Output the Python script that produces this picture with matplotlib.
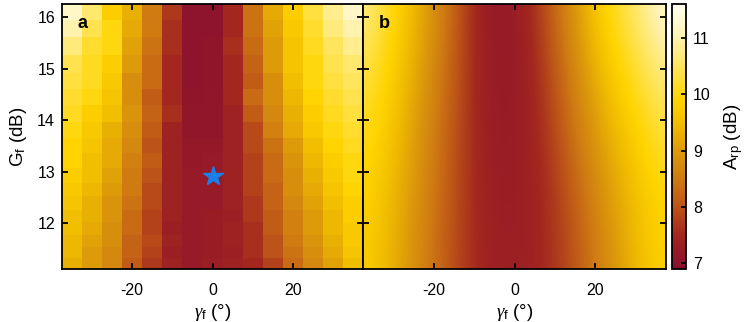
import numpy as np
import matplotlib
matplotlib.use("Agg")
import matplotlib.pyplot as plt
from matplotlib.colors import LinearSegmentedColormap

plt.rcParams['font.family'] = ['Liberation Sans', 'DejaVu Sans']
plt.rcParams['mathtext.fontset'] = 'custom'
plt.rcParams['mathtext.rm'] = 'Liberation Sans'
plt.rcParams['mathtext.it'] = 'Liberation Serif:italic'
plt.rcParams['axes.unicode_minus'] = False

# ---- data ----
gamma_a = [-35, -30, -25, -20, -15, -10, -5, 0, 5, 10, 15, 20, 25, 30, 35]
g_a = [16.11, 15.79, 15.44, 15.09, 14.76, 14.45, 14.13, 13.80, 13.50,
       13.21, 12.92, 12.65, 12.39, 12.14, 11.90, 11.66, 11.43, 11.22]
arp_a = [
    [11.2, 10.6, 9.8, 9.3, 8.5, 7.7, 7.0, 7.0, 7.5, 8.4, 9.2, 9.8, 10.3, 10.8, 11.2],
    [11.0, 10.4, 10.0, 9.2, 8.5, 7.6, 7.0, 7.0, 7.5, 8.4, 9.1, 9.7, 10.2, 10.7, 11.0],
    [10.7, 10.2, 10.0, 9.1, 8.4, 7.6, 7.0, 7.05, 7.6, 8.3, 9.0, 9.6, 10.1, 10.5, 10.8],
    [10.4, 10.1, 9.8, 9.0, 8.3, 7.5, 7.0, 7.05, 7.5, 8.2, 9.0, 9.6, 10.0, 10.4, 10.6],
    [10.3, 10.1, 9.7, 8.8, 8.3, 7.5, 7.0, 7.05, 7.5, 8.1, 8.8, 9.5, 10.0, 10.3, 10.5],
    [10.2, 10.0, 9.6, 8.8, 8.1, 7.5, 7.05, 7.1, 7.5, 8.3, 8.8, 9.4, 9.9, 10.2, 10.4],
    [10.1, 9.8, 9.5, 8.9, 8.2, 7.6, 7.1, 7.1, 7.4, 8.1, 8.7, 9.3, 9.8, 10.1, 10.3],
    [10.0, 9.7, 9.3, 8.8, 8.1, 7.4, 7.1, 7.1, 7.4, 7.9, 8.6, 9.2, 9.7, 10.0, 10.2],
    [9.9, 9.6, 9.2, 8.7, 8.0, 7.4, 7.15, 7.15, 7.4, 7.9, 8.4, 9.0, 9.5, 9.9, 10.1],
    [9.9, 9.5, 9.2, 8.6, 8.1, 7.4, 7.15, 7.2, 7.4, 7.8, 8.3, 8.9, 9.4, 9.8, 10.0],
    [9.8, 9.5, 9.1, 8.5, 8.0, 7.4, 7.2, 7.2, 7.4, 7.8, 8.3, 8.8, 9.3, 9.7, 10.0],
    [9.7, 9.4, 9.0, 8.5, 7.9, 7.4, 7.2, 7.2, 7.4, 7.8, 8.2, 8.8, 9.2, 9.6, 9.9],
    [9.6, 9.3, 8.9, 8.4, 7.9, 7.4, 7.2, 7.2, 7.4, 7.7, 8.2, 8.7, 9.1, 9.5, 9.8],
    [9.5, 9.3, 8.9, 8.3, 7.8, 7.4, 7.2, 7.25, 7.35, 7.7, 8.1, 8.6, 9.0, 9.4, 9.8],
    [9.5, 9.2, 8.8, 8.3, 7.8, 7.3, 7.2, 7.25, 7.4, 7.6, 8.1, 8.6, 9.0, 9.4, 9.7],
    [9.4, 9.1, 8.8, 8.2, 7.9, 7.4, 7.2, 7.25, 7.4, 7.6, 8.0, 8.5, 8.9, 9.3, 9.7],
    [9.4, 9.0, 8.7, 8.2, 7.8, 7.3, 7.2, 7.25, 7.35, 7.6, 8.0, 8.4, 8.8, 9.2, 9.6],
    [9.3, 9.0, 8.7, 8.1, 7.7, 7.4, 7.2, 7.3, 7.4, 7.5, 7.8, 8.3, 8.7, 9.1, 9.5],
]
star_gamma = [0.0]
star_g = [12.92]

gamma_b = [-37.5, -30, -22.5, -15, -7.5, 0, 7.5, 15, 22.5, 30, 37.5]
g_b = [16.25, 14.96, 13.68, 12.39, 11.10]
arp_b = [
    [10.9, 10.0, 9.2, 8.2, 7.2, 7.15, 7.9, 9.0, 10.0, 10.6, 11.5],
    [10.4, 9.8, 9.0, 8.1, 7.25, 7.15, 7.7, 8.7, 9.6, 10.2, 10.8],
    [10.1, 9.6, 8.8, 8.0, 7.3, 7.2, 7.6, 8.4, 9.2, 9.8, 10.3],
    [9.9, 9.4, 8.7, 7.95, 7.35, 7.25, 7.5, 8.1, 8.9, 9.5, 10.0],
    [9.8, 9.3, 8.6, 7.9, 7.4, 7.3, 7.5, 8.0, 8.7, 9.4, 9.9],
]
x_ticks = [-20, 0, 20]
y_ticks = [12, 13, 14, 15, 16]
cb_ticks = [7, 8, 9, 10, 11]
vmin, vmax = 6.9, 11.6

# ---- colormap ----
stops = [(6.9, '#8a0f2e'), (7.5, '#a3261f'), (8.0, '#bd5418'), (8.5, '#cf7b12'),
         (9.0, '#dd9b0a'), (9.5, '#f2be00'), (9.9, '#ffd400'), (10.5, '#ffe55c'),
         (11.0, '#fff2ad'), (11.6, '#fffff5')]
cmap = LinearSegmentedColormap.from_list(
    'arp', [((v - vmin) / (vmax - vmin), c) for v, c in stops])

fig = plt.figure(figsize=(7.52, 3.22), dpi=100)
W, H = 752, 322
def ax_at(l, t, r, b):
    return fig.add_axes([l / W, 1 - b / H, (r - l) / W, (b - t) / H])

ax_a = ax_at(62, 4, 363, 269)
ax_b = ax_at(363, 4, 666, 269)
cax = ax_at(672, 4, 686, 269)

ax_a.pcolormesh(gamma_a, g_a, np.array(arp_a), cmap=cmap, vmin=vmin, vmax=vmax,
                shading='nearest')
ax_a.plot(star_gamma, star_g, marker='*', color='#1a7fe6', markersize=15,
          linestyle='none')

gb = np.array(g_b); xb = np.array(gamma_b)
dx = xb[1] - xb[0]; dy = gb[0] - gb[1]
im = ax_b.imshow(np.array(arp_b), cmap=cmap, vmin=vmin, vmax=vmax,
                 interpolation='bicubic', aspect='auto', origin='upper',
                 extent=[xb[0] - dx / 2, xb[-1] + dx / 2, gb[-1] - dy / 2, gb[0] + dy / 2])

for ax in (ax_a, ax_b):
    ax.set_xlim(-37.5, 37.5)
    ax.set_ylim(11.11, 16.26)
    ax.set_xticks(x_ticks)
    ax.set_yticks(y_ticks)
    ax.tick_params(direction='in', top=True, right=True, length=4.5, width=1.3,
                   labelsize=11.5, colors='black', pad=5)
    ax.tick_params(axis='x', pad=10)
    for s in ax.spines.values():
        s.set_linewidth(1.3)
    ax.set_xlabel(r'$\it{\gamma}_\mathrm{f}$ (°)', fontsize=13.5, labelpad=3)
ax_b.tick_params(labelleft=False)

ax_a.set_ylabel(r'G$_\mathrm{f}$ (dB)', fontsize=13.5, labelpad=6)
ax_a.text(0.053, 0.925, 'a', transform=ax_a.transAxes, fontsize=13,
          fontweight='bold', va='center', ha='left')
ax_b.text(0.053, 0.925, 'b', transform=ax_b.transAxes, fontsize=13,
          fontweight='bold', va='center', ha='left')

cb = fig.colorbar(im, cax=cax, ticks=cb_ticks)
cb.ax.tick_params(direction='in', length=3.5, width=1.3, labelsize=11.5, pad=5)
cb.outline.set_linewidth(1.3)
cb.set_label(r'A$_\mathrm{rp}$ (dB)', fontsize=13.5, labelpad=8)

fig.savefig('out.png', dpi=100)
